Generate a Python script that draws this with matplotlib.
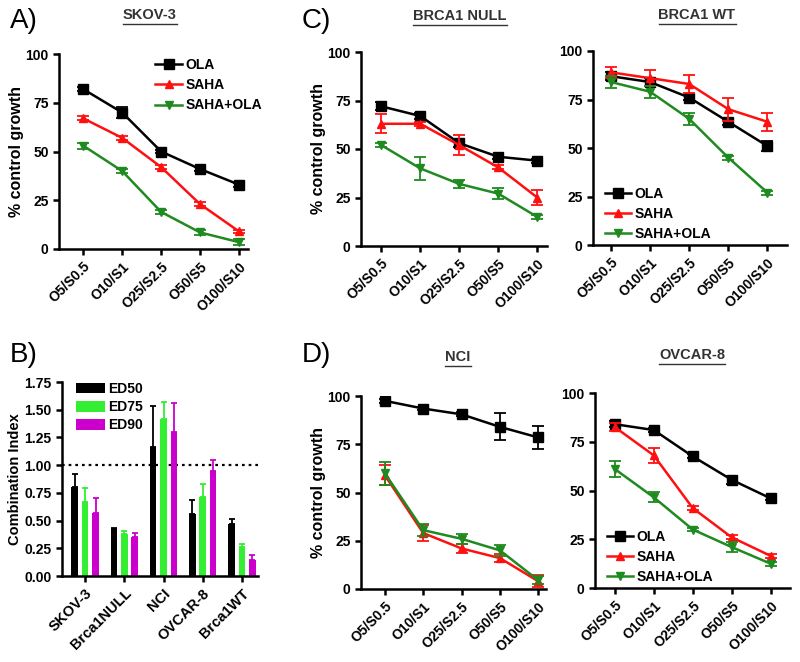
import matplotlib
matplotlib.use('Agg')
import matplotlib.pyplot as plt
from matplotlib.lines import Line2D
import numpy as np

plt.rcParams['font.family'] = ['Liberation Sans', 'DejaVu Sans']
plt.rcParams['font.weight'] = 'bold'

W, H = 800, 662
fs_tick = 10
fs_lab = 11.5
lw = 1.8

doses = ['O5/S0.5', 'O10/S1', 'O25/S2.5', 'O50/S5', 'O100/S10']

# SKOV-3
skov_ola = [82, 70, 50, 41, 33]
skov_ola_err = [1, 3, 1, 1, 1]
skov_saha = [67, 57, 42, 23, 9]
skov_saha_err = [1, 1, 1, 1, 1]
skov_combo = [53, 40, 19, 8.5, 3.5]
skov_combo_err = [1.5, 1, 1, 1.5, 1.5]

# BRCA1 NULL
null_ola = [72, 67, 53, 46, 44]
null_ola_err = [2, 1.5, 2, 1, 1]
null_saha = [63, 63, 52, 40.5, 25]
null_saha_err = [5, 1, 5, 1, 4]
null_combo = [52, 40, 32, 27, 15]
null_combo_err = [1, 6, 2, 3, 1]

# BRCA1 WT
wt_ola = [87, 84, 76, 63.5, 51]
wt_ola_err = [2, 2, 1.5, 1.5, 2.5]
wt_saha = [89, 86, 83, 70, 63.5]
wt_saha_err = [3, 4, 4.5, 6, 4.5]
wt_combo = [84, 79, 65, 45, 27]
wt_combo_err = [3, 3, 3, 1, 1]

# NCI
nci_ola = [97.5, 93.5, 90.5, 84, 78.5]
nci_ola_err = [1, 1, 1, 7, 6]
nci_saha = [59, 29, 21, 16, 4]
nci_saha_err = [5, 4, 2.5, 2, 3]
nci_combo = [60, 30.5, 26, 20, 4.5]
nci_combo_err = [6, 3, 2.5, 3, 2]

# OVCAR-8
ov_ola = [84, 81, 67.5, 55.5, 46]
ov_ola_err = [1.5, 1, 1, 2, 1]
ov_saha = [82.5, 68, 41, 26, 16.5]
ov_saha_err = [2, 4, 1, 1, 1]
ov_combo = [61, 46.5, 30, 21, 12.5]
ov_combo_err = [4, 2.5, 1, 2.5, 1]

# Combination index
cells = ['SKOV-3', 'Brca1NULL', 'NCI', 'OVCAR-8', 'Brca1WT']
ed50 = [0.80, 0.42, 1.16, 0.56, 0.47]
ed50_err = [0.12, 0.01, 0.37, 0.13, 0.04]
ed75 = [0.67, 0.38, 1.42, 0.71, 0.26]
ed75_err = [0.12, 0.03, 0.15, 0.12, 0.03]
ed90 = [0.57, 0.35, 1.30, 0.95, 0.14]
ed90_err = [0.13, 0.04, 0.26, 0.10, 0.05]

c_ola = 'black'
c_saha = '#ff1010'
c_combo = '#1f8a1f'
c_ed75 = '#33ee33'
c_ed90 = '#cc00cc'

fig = plt.figure(figsize=(8, 6.62), dpi=100)


def add_ax(l, t, r, b):
    return fig.add_axes([l / W, 1 - b / H, (r - l) / W, (b - t) / H])


def style(ax):
    for s in ['top', 'right']:
        ax.spines[s].set_visible(False)
    for s in ['left', 'bottom']:
        ax.spines[s].set_linewidth(lw)
    ax.tick_params(direction='out', length=4, width=lw, labelsize=fs_tick)
    for t in ax.get_xticklabels() + ax.get_yticklabels():
        t.set_fontweight('bold')


def line_panel(ax, ola, ola_e, saha, saha_e, combo, combo_e, xlim, ylabel=True):
    x = np.arange(len(doses))
    ekw = dict(capsize=4, elinewidth=1.3, capthick=1.3)
    ax.errorbar(x, ola, yerr=ola_e, color=c_ola, marker='s', ms=6.5, lw=lw,
                label='OLA', zorder=3, **ekw)
    ax.errorbar(x, saha, yerr=saha_e, color=c_saha, marker='^', ms=6, lw=lw,
                label='SAHA', zorder=4, **ekw)
    ax.errorbar(x, combo, yerr=combo_e, color=c_combo, marker='v', ms=6, lw=lw,
                label='SAHA+OLA', zorder=5, **ekw)
    ax.set_xlim(*xlim)
    ax.set_ylim(0, 100)
    ax.set_yticks([0, 25, 50, 75, 100])
    ax.set_xticks(x)
    ax.set_xticklabels(doses, rotation=45, ha='right', rotation_mode='anchor')
    if ylabel:
        ax.set_ylabel('% control growth', fontsize=fs_lab, fontweight='bold',
                      labelpad=1)
    style(ax)


def add_legend(ax, anchor, loc='upper left'):
    handles, labels = ax.get_legend_handles_labels()
    handles = [h[0] for h in handles]  # line + marker only, no error bars
    hl = ax.legend(handles, labels, loc=loc, bbox_to_anchor=anchor, frameon=False,
                   fontsize=fs_tick, handlelength=1.9, handletextpad=0.25,
                   labelspacing=0.45, borderpad=0, borderaxespad=0)
    for t in hl.get_texts():
        t.set_fontweight('bold')


# A) SKOV-3
axA = add_ax(59, 54, 248, 249)
line_panel(axA, skov_ola, skov_ola_err, skov_saha, skov_saha_err,
           skov_combo, skov_combo_err, (-0.62, 4.23))
add_legend(axA, (0.51, 0.98))

# C) BRCA1 NULL
axC1 = add_ax(361, 52, 547, 246)
line_panel(axC1, null_ola, null_ola_err, null_saha, null_saha_err,
           null_combo, null_combo_err, (-0.52, 4.25))

# C) BRCA1 WT
axC2 = add_ax(593, 51, 787, 245)
line_panel(axC2, wt_ola, wt_ola_err, wt_saha, wt_saha_err,
           wt_combo, wt_combo_err, (-0.46, 4.5), ylabel=False)
add_legend(axC2, (0.06, 0.02), loc='lower left')

# D) NCI
axD1 = add_ax(361, 396, 546, 589)
line_panel(axD1, nci_ola, nci_ola_err, nci_saha, nci_saha_err,
           nci_combo, nci_combo_err, (-0.62, 4.2))

# D) OVCAR-8
axD2 = add_ax(595, 393, 790, 588)
line_panel(axD2, ov_ola, ov_ola_err, ov_saha, ov_saha_err,
           ov_combo, ov_combo_err, (-0.51, 4.5), ylabel=False)
add_legend(axD2, (0.06, 0.02), loc='lower left')

# B) Combination index
axB = add_ax(62, 382, 258, 576)
xb = np.arange(len(cells))
bw = 0.17
off = 0.265
ekw = dict(capsize=2, elinewidth=1.3, capthick=1.3)
zeros = np.zeros(len(cells))
axB.bar(xb - off, ed50, bw, color='black', label='ED50')
axB.errorbar(xb - off, ed50, yerr=[zeros, ed50_err], fmt='none', ecolor='black', **ekw)
axB.bar(xb, ed75, bw, color=c_ed75, label='ED75')
axB.errorbar(xb, ed75, yerr=[zeros, ed75_err], fmt='none', ecolor=c_ed75, **ekw)
axB.bar(xb + off, ed90, bw, color=c_ed90, label='ED90')
axB.errorbar(xb + off, ed90, yerr=[zeros, ed90_err], fmt='none', ecolor=c_ed90, **ekw)
axB.axhline(1.0, color='black', linestyle=(0, (1.2, 1.8)), lw=1.6, zorder=0)
axB.set_xlim(-0.59, 4.41)
axB.set_ylim(0, 1.75)
yt = np.arange(0, 1.76, 0.25)
axB.set_yticks(yt)
axB.set_yticklabels(['%.2f' % v for v in yt])
axB.set_xticks(xb)
axB.set_xticklabels(cells, rotation=45, ha='right', rotation_mode='anchor')
axB.set_ylabel('Combination Index', fontsize=10.5, fontweight='bold', labelpad=2)
style(axB)
for t in axB.get_xticklabels():
    t.set_fontsize(10.5)
hl = axB.legend(loc='upper left', bbox_to_anchor=(0.07, 1.0), frameon=False,
                fontsize=fs_tick, handlelength=2.1, handleheight=0.8,
                handletextpad=0.2, labelspacing=0.3, borderpad=0, borderaxespad=0)
for t in hl.get_texts():
    t.set_fontweight('bold')

# panel letters
for lab, x, y in [('A)', 10, 28), ('C)', 302, 28), ('B)', 10, 362), ('D)', 302, 362)]:
    fig.text(x / W, 1 - y / H, lab, fontsize=20, fontweight='normal',
             ha='left', va='baseline')

# underlined titles
titles = [('SKOV-3', 150, 19), ('BRCA1 NULL', 460, 20), ('BRCA1 WT', 697, 19),
          ('NCI', 458, 361), ('OVCAR-8', 692, 359)]
fig.canvas.draw()
renderer = fig.canvas.get_renderer()
for txt, x, y in titles:
    t = fig.text(x / W, 1 - y / H, txt, fontsize=10.5, fontweight='bold',
                 color='#333333', ha='center', va='baseline')
    bb = t.get_window_extent(renderer)
    yl = (bb.y0 - 2) / H
    fig.add_artist(Line2D([bb.x0 / W, bb.x1 / W], [yl, yl], color='#333333',
                          lw=1.0, transform=fig.transFigure))

fig.savefig('out.png', dpi=100)
